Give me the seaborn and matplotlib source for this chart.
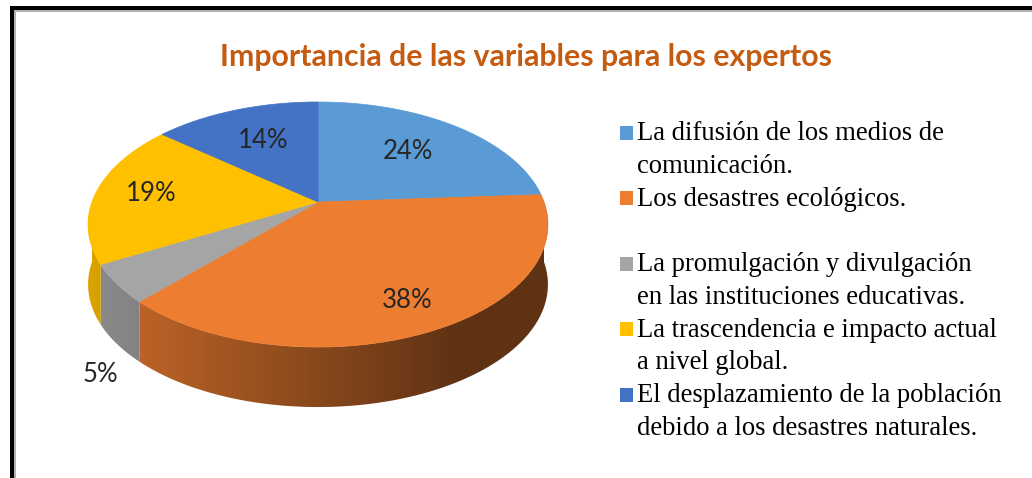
import numpy as np
import matplotlib
matplotlib.use("Agg")
import matplotlib.pyplot as plt
from matplotlib.patches import Polygon, Rectangle
from matplotlib.colors import to_rgb
import seaborn as sns

# -----------------------------
# Data
# -----------------------------
title = "Importancia de las variables para los expertos"
categories = [
    "La difusión de los medios de\ncomunicación.",
    "Los desastres ecológicos.\n",
    "La promulgación y divulgación\nen las instituciones educativas.",
    "La trascendencia e impacto actual\na nivel global.",
    "El desplazamiento de la población\ndebido a los desastres naturales.",
]
shares = [24, 38, 5, 19, 14]
colors = ["#5B9BD5", "#ED7D31", "#A5A5A5", "#FFC000", "#4472C4"]

# label placement (fraction of radius); outside labels dropped below the rim
label_r = [0.63, 0.8, 1.07, 0.75, 0.63]
label_out = [False, False, True, False, False]

# -----------------------------
# Style
# -----------------------------
sns.set_theme(style="white")
plt.rcParams['font.family'] = ['Lato', 'DejaVu Sans']
palette = sns.color_palette(colors)

fig = plt.figure(figsize=(10.32, 4.78), dpi=100)
ax = fig.add_axes([0, 0, 1, 1])
ax.axis("off")

# frame (black top + left edge, thin grey inner line)
ax.add_patch(Rectangle((10, 6), 1022, 4, color="black", lw=0))
ax.add_patch(Rectangle((10, 6), 4, 472, color="black", lw=0))
ax.add_patch(Rectangle((14, 10), 1018, 1.5, color="#b0b0b0", lw=0))
ax.add_patch(Rectangle((14, 10), 1.5, 468, color="#b0b0b0", lw=0))

# -----------------------------
# 3D pie (perspective ellipse)
# -----------------------------
cx, cy = 318, 202
a, b, p = 226, 118.4, 0.1837
depth = 60


def proj(t, r=1.0):
    u, v = r * np.cos(t), r * np.sin(t)
    w = 1 + p * v
    return cx + a * u / w, cy - b * v / w


cum = np.cumsum(shares) / np.sum(shares) * 100
edges = np.radians(90 - 360 * np.concatenate([[0], cum]) / 100)

# side wall: front half only, shaded left -> right
xs = np.linspace(60, 580, 520)
shade = np.interp(xs, [90, 460], [0.85, 0.40])
for i in range(len(shares)):
    lo, hi = sorted((edges[i], edges[i + 1]))
    s0, s1 = max(lo, -np.pi), min(hi, 0)
    if s1 <= s0:
        continue
    ts = np.linspace(s0, s1, 150)
    top = [proj(t) for t in ts]
    bot = [(x, y + depth) for x, y in top[::-1]]
    poly = Polygon(top + bot, closed=True, facecolor="none", edgecolor="none")
    ax.add_patch(poly)
    grad = np.array(to_rgb(palette[i]))[None, None, :] * shade[None, :, None]
    im = ax.imshow(grad, extent=(xs[0], xs[-1], 420, 150), aspect="auto",
                   interpolation="bilinear", zorder=1)
    im.set_clip_path(poly)

# top face
for i in range(len(shares)):
    ts = np.linspace(edges[i], edges[i + 1], 120)
    pts = [(cx, cy)] + [proj(t) for t in ts]
    ax.add_patch(Polygon(pts, closed=True, facecolor=palette[i],
                         edgecolor=palette[i], lw=0.5, zorder=2))

# percentage labels
for i, s in enumerate(shares):
    tm = (edges[i] + edges[i + 1]) / 2
    lx, ly = proj(tm, label_r[i])
    if label_out[i]:
        ly += depth + 24
    ax.text(lx, ly, f"{s}%", ha="center", va="center", fontsize=18.5,
            color="#262626", zorder=3)

# title
ax.text(526, 57, title, ha="center", va="center", fontsize=21.8,
        fontweight="bold", color="#C55A11")

# legend
line_y0, line_h = 134, 32.7
line = 0
for i, lab in enumerate(categories):
    ax.add_patch(Rectangle((620, line_y0 + line * line_h - 8), 13, 14,
                           color=palette[i], lw=0))
    for txt in lab.split("\n"):
        if txt:
            ax.text(637, line_y0 + line * line_h, txt, ha="left", va="center",
                    fontsize=19.2, family="Liberation Serif", color="black")
        line += 1

ax.set_xlim(0, 1032)
ax.set_ylim(478, 0)
fig.savefig("out.png", dpi=100)
